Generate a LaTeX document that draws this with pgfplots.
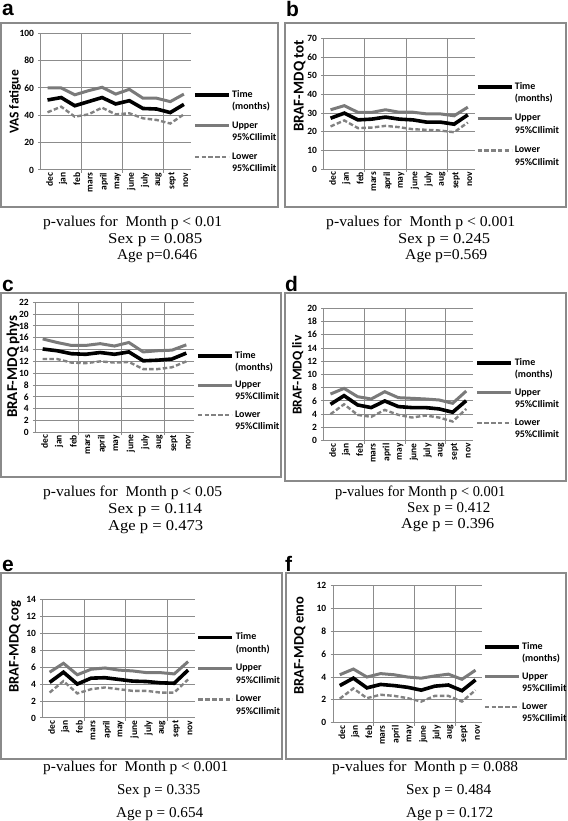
\documentclass[border=0pt]{standalone}
\usepackage{pgfplots}
\pgfplotsset{compat=1.18}
\usepackage{fontspec}
\usepackage{graphicx}
\setmainfont{Liberation Serif}
\newfontfamily\carlito{Carlito}
\newfontfamily\lsans{Liberation Sans}
\definecolor{gridc}{HTML}{8C8C8C}
\definecolor{upc}{HTML}{7A7A7A}
\definecolor{loc}{HTML}{828282}
\definecolor{boxc}{HTML}{8A8A8A}

\newcommand{\legtxt}[2]{\raisebox{0pt}[6.4pt][0pt]{\rlap{\raisebox{-12.3pt}{#2}}#1}}
\newcommand{\pv}[4]{\node[anchor=base west, inner sep=0pt] at (#1pt,#2pt) {\resizebox{#3pt}{\height}{\fontsize{15}{18}\selectfont #4}};}
\newcommand{\yl}[4]{\node[rotate=90, inner sep=0pt, font=\carlito\bfseries\fontsize{#3}{16}\selectfont] at (#1pt,#2pt) {#4};}
\newcommand{\pl}[3]{\node[anchor=base west, inner sep=0pt, font=\lsans\bfseries\fontsize{21}{24}\selectfont] at (#1pt,#2pt) {#3};}

\pgfplotsset{
 panel/.style={
  scale only axis, anchor=south west,
  xmin=-0.5, xmax=10.5, ymin=0,
  axis x line*=bottom, axis y line*=left,
  axis line style={gridc, line width=1pt, -},
  xtick={0,...,10},
  xticklabels={dec,jan,feb,mars,april,may,june,july,aug,sept,nov},
  xticklabel style={rotate=90, anchor=east, inner sep=0pt, yshift=-2pt, font=\carlito\bfseries\fontsize{9.5}{11}\selectfont},
  xtick style={draw=none},
  extra x ticks={2.5,5.5,8.5}, extra x tick labels={},
  extra x tick style={grid=major, xtick style={draw=gridc, line width=1pt}, major tick length=3pt},
  ymajorgrids,
  major grid style={gridc, line width=1pt},
  tick align=outside, major tick length=2.5pt,
  ytick style={gridc, line width=1pt},
  yticklabel style={inner sep=0pt, xshift=-4pt, font=\carlito\bfseries\fontsize{9.5}{10}\selectfont},
  /pgf/number format/assume math mode=true,
  legend cell align=left, reverse legend,
  legend style={draw=none, fill=none, inner sep=0pt, outer sep=0pt, anchor=north west,
     nodes={inner sep=0pt, outer sep=0pt, font=\carlito\bfseries\fontsize{10}{12.3}\selectfont},
     column sep=1.5pt, row sep=23pt},
  legend image code/.code={\draw[##1] (0pt,0pt) -- (34pt,0pt);},
 },
 tline/.style={black, line width=3.6pt},
 uline/.style={upc, line width=3pt},
 lline/.style={loc, line width=2.4pt, dash pattern=on 4.5pt off 2.3pt},
}

\begin{document}
\begin{tikzpicture}[x=1pt,y=1pt]
\useasboundingbox (0,0) rectangle (567,821);
% boxes
\draw[boxc, line width=1.2pt] (1,614) rectangle (278,798);
\draw[boxc, line width=1.2pt] (285,614) rectangle (566,798);
\draw[boxc, line width=1.2pt] (1,344) rectangle (281,528);
\draw[boxc, line width=1.2pt] (285,340) rectangle (566,528);
\draw[boxc, line width=1.2pt] (1,62) rectangle (282,248);
\draw[boxc, line width=1.2pt] (286,62) rectangle (566,248);

% panel a
\begin{axis}[panel, at={(40.7pt,651pt)}, width=150pt, height=136.7pt, ymax=100, ytick={0,20,...,100},
  legend style={at={(axis description cs:1.0153,0.5794)}, row sep=23.1pt}]
\addplot[lline] coordinates {(0,42.2)(1,46.3)(2,39)(3,40.7)(4,45.6)(5,40.7)(6,41.5)(7,37.8)(8,36.6)(9,34)(10,40.7)};
\addplot[uline] coordinates {(0,60)(1,60)(2,55)(3,58)(4,60.5)(5,55.5)(6,59)(7,52.5)(8,52.5)(9,50)(10,55.5)};
\addplot[tline] coordinates {(0,51.2)(1,53)(2,47)(3,50)(4,53)(5,48.3)(6,50.7)(7,45)(8,44.6)(9,42)(10,48)};
\legend{\legtxt{Lower}{95\%CIlimit},\legtxt{Upper}{95\%CIlimit},\legtxt{Time}{(months)}}
\end{axis}

% panel b
\begin{axis}[panel, at={(323.7pt,651.7pt)}, width=151pt, height=131pt, ymax=70, ytick={0,10,...,70},
  legend style={at={(axis description cs:1.0066,0.6603)}, row sep=23.9pt}]
\addplot[lline] coordinates {(0,22.9)(1,26.1)(2,22.0)(3,22.3)(4,23.2)(5,22.5)(6,21.4)(7,21.1)(8,20.7)(9,19.8)(10,25)};
\addplot[uline] coordinates {(0,31.8)(1,34)(2,30.4)(3,30.4)(4,31.8)(5,30.5)(6,30.5)(7,29.6)(8,29.6)(9,28.6)(10,33.2)};
\addplot[tline] coordinates {(0,27.3)(1,30)(2,26.4)(3,26.8)(4,27.9)(5,26.8)(6,26.4)(7,25.2)(8,25.2)(9,24.1)(10,29.1)};
\legend{\legtxt{Lower}{95\%CIlimit},\legtxt{Upper}{95\%CIlimit},\legtxt{Time}{(months)}}
\end{axis}

% panel c
\begin{axis}[panel, at={(35.5pt,388.7pt)}, width=158pt, height=130pt, ymax=22, ytick={0,2,...,22},
  legend style={at={(axis description cs:1.0158,0.6192)}, row sep=21.6pt}]
\addplot[lline] coordinates {(0,12.4)(1,12.4)(2,11.8)(3,11.7)(4,12.0)(5,11.8)(6,11.9)(7,10.7)(8,10.7)(9,11.0)(10,12.0)};
\addplot[uline] coordinates {(0,15.8)(1,15.2)(2,14.7)(3,14.7)(4,15.0)(5,14.6)(6,15.2)(7,13.6)(8,13.8)(9,13.9)(10,14.8)};
\addplot[tline] coordinates {(0,14.1)(1,13.8)(2,13.3)(3,13.2)(4,13.5)(5,13.2)(6,13.6)(7,12.1)(8,12.2)(9,12.4)(10,13.4)};
\legend{\legtxt{Lower}{95\%CIlimit},\legtxt{Upper}{95\%CIlimit},\legtxt{Time}{(months)}}
\end{axis}

% panel d
\begin{axis}[panel, at={(323.7pt,380.3pt)}, width=149.3pt, height=132.4pt, ymax=20, ytick={0,2,...,20},
  legend style={at={(axis description cs:1.018,0.6163)}, row sep=22pt}]
\addplot[lline] coordinates {(0,4.0)(1,5.5)(2,3.9)(3,3.6)(4,4.65)(5,3.9)(6,3.5)(7,3.8)(8,3.5)(9,2.9)(10,4.8)};
\addplot[uline] coordinates {(0,7.05)(1,7.9)(2,6.65)(3,6.3)(4,7.4)(5,6.5)(6,6.4)(7,6.3)(8,6.15)(9,5.65)(10,7.5)};
\addplot[tline] coordinates {(0,5.5)(1,6.8)(2,5.4)(3,5.0)(4,6.0)(5,5.15)(6,5.0)(7,5.0)(8,4.8)(9,4.3)(10,6.05)};
\legend{\legtxt{Lower}{95\%CIlimit},\legtxt{Upper}{95\%CIlimit},\legtxt{Time}{(months)}}
\end{axis}

% panel e
\begin{axis}[panel, at={(42.7pt,103pt)}, width=152.3pt, height=118.7pt, ymax=14, ytick={0,2,...,14},
  legend style={at={(axis description cs:1.011,0.7119)}, row sep=23.1pt}]
\addplot[lline] coordinates {(0,3.0)(1,4.35)(2,2.9)(3,3.4)(4,3.6)(5,3.4)(6,3.2)(7,3.2)(8,3.0)(9,3.0)(10,4.55)};
\addplot[uline] coordinates {(0,5.4)(1,6.45)(2,5.1)(3,5.75)(4,5.9)(5,5.65)(6,5.55)(7,5.35)(8,5.35)(9,5.2)(10,6.65)};
\addplot[tline] coordinates {(0,4.2)(1,5.4)(2,4.0)(3,4.7)(4,4.75)(5,4.55)(6,4.35)(7,4.3)(8,4.15)(9,4.1)(10,5.65)};
\legend{\legtxt{Lower}{95\%CIlimit},\legtxt{Upper}{95\%CIlimit},\legtxt{Time}{(month)}}
\end{axis}

% panel f
\begin{axis}[panel, at={(333pt,98.3pt)}, width=149.3pt, height=137pt, ymax=12, ytick={0,2,...,12},
  legend style={at={(axis description cs:1.0047,0.5832)}, row sep=22.2pt}]
\addplot[lline] coordinates {(0,2.1)(1,3.0)(2,2.15)(3,2.45)(4,2.35)(5,2.15)(6,1.85)(7,2.35)(8,2.35)(9,1.85)(10,2.85)};
\addplot[uline] coordinates {(0,4.2)(1,4.7)(2,4.0)(3,4.3)(4,4.2)(5,4.0)(6,3.9)(7,4.1)(8,4.25)(9,3.8)(10,4.6)};
\addplot[tline] coordinates {(0,3.25)(1,3.9)(2,3.05)(3,3.35)(4,3.25)(5,3.1)(6,2.85)(7,3.2)(8,3.3)(9,2.8)(10,3.75)};
\legend{\legtxt{Lower}{95\%CIlimit},\legtxt{Upper}{95\%CIlimit},\legtxt{Time}{(months)}}
\end{axis}

% y labels
\yl{15}{719}{13.5}{VAS fatigue}
\yl{299.7}{735}{15}{BRAF-MDQ tot}
\yl{13}{454.3}{15}{BRAF-MDQ phys}
\yl{297.7}{446}{13.5}{BRAF-MDQ liv}
\yl{15}{174.3}{14.5}{BRAF-MDQ cog}
\yl{299.7}{175.2}{14.5}{BRAF-MDQ emo}

% panel letters
\pl{2}{805}{a}
\pl{286}{804}{b}
\pl{2}{529}{c}
\pl{285}{529}{d}
\pl{2}{249}{e}
\pl{285}{249}{f}

% p-values
\pv{43}{594}{179}{p-values for\ \ Month p < 0.01}
\pv{108}{577}{94}{Sex p = 0.085}
\pv{117}{561}{80}{Age p=0.646}
\pv{326}{594}{189}{p-values for\ \ Month p < 0.001}
\pv{398}{577}{92}{Sex p = 0.245}
\pv{405}{561}{82}{Age p=0.569}
\pv{43}{324}{179}{p-values for\ \ Month p < 0.05}
\pv{108}{307}{94}{Sex p = 0.114}
\pv{108}{290}{95}{Age p = 0.473}
\pv{335}{324}{170}{p-values for Month p < 0.001}
\pv{407}{308}{83}{Sex p = 0.412}
\pv{401}{292}{93}{Age p = 0.396}
\pv{43}{49}{185}{p-values for\ \ Month p < 0.001}
\pv{117}{26.5}{83}{Sex p = 0.335}
\pv{116}{4}{87}{Age p = 0.654}
\pv{332}{49}{186}{p-values for\ \ Month p = 0.088}
\pv{406}{26.5}{85}{Sex p = 0.484}
\pv{406}{4}{87}{Age p = 0.172}
\end{tikzpicture}
\end{document}
